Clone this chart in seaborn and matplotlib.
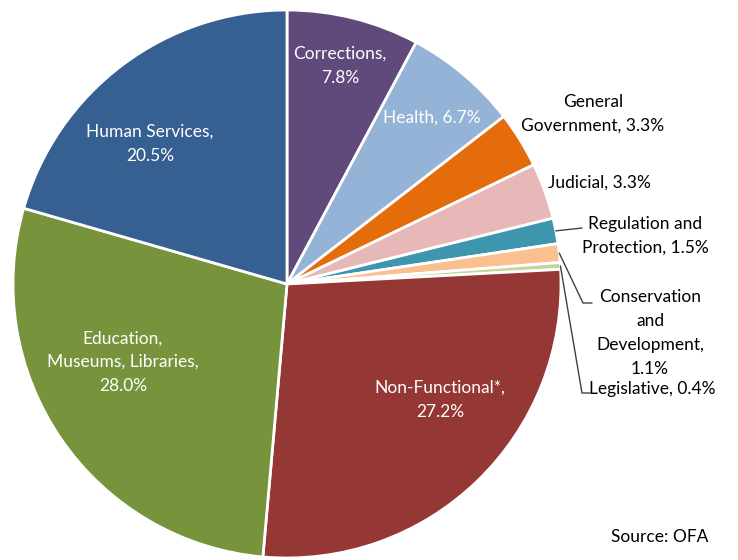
import matplotlib
matplotlib.use("Agg")
import matplotlib.pyplot as plt
import seaborn as sns
import numpy as np

# ---- data ----
categories = ["Corrections", "Health", "General Government", "Judicial",
              "Regulation and Protection", "Conservation and Development",
              "Legislative", "Non-Functional*", "Education, Museums, Libraries",
              "Human Services"]
values = [7.8, 6.7, 3.3, 3.3, 1.5, 1.1, 0.4, 27.2, 28.0, 20.5]
label_texts = ["Corrections,\n7.8%", "Health, 6.7%", "General\nGovernment, 3.3%",
               "Judicial, 3.3%", "Regulation and\nProtection, 1.5%",
               "Conservation\nand\nDevelopment,\n1.1%", "Legislative, 0.4%",
               "Non-Functional*,\n27.2%", "Education,\nMuseums, Libraries,\n28.0%",
               "Human Services,\n20.5%"]
source_text = "Source: OFA"

# ---- styling ----
colors = ["#604A7B", "#95B3D7", "#E46C0A", "#E6B9B8", "#3E96AE",
          "#FAC090", "#C3D69B", "#953735", "#77933C", "#376092"]
W, H = 738, 560
cx, cy, R = 287, 284, 274
# label centre positions in pixel coordinates (x, y from top)
label_pos = [(340, 66), (432, 118), (593, 114), (599, 183), (645, 236),
             (650, 333), (652, 389), (440, 400), (123, 362), (150, 144)]
label_col = ["white", "white", "black", "black", "black",
             "black", "black", "white", "white", "white"]
# leader line elbows (pixel coords) for small slices, None = no leader
leaders = [None, None, None, None, [(582, 228)],
           [(583, 303), (592, 303)], [(582, 393), (590, 393)],
           None, None, None]

sns.set_theme(style="white")
plt.rcParams['font.family'] = ['Lato', 'DejaVu Sans']

fig = plt.figure(figsize=(W / 100, H / 100), dpi=100)
ax = fig.add_axes([0, 0, 1, 1])

def py(y):
    return H - y

wedges, _ = ax.pie(values, colors=sns.color_palette(colors), startangle=90,
                   counterclock=False, center=(cx, py(cy)), radius=R,
                   wedgeprops=dict(edgecolor="white", linewidth=2))
ax.set_xlim(0, W)
ax.set_ylim(0, H)
ax.set_aspect("equal")
ax.axis("off")

for i, (txt, (lx, ly), col) in enumerate(zip(label_texts, label_pos, label_col)):
    ax.text(lx, py(ly), txt, ha="center", va="center", color=col,
            fontsize=12.5, linespacing=1.6)
    if leaders[i] is not None:
        w = wedges[i]
        ang = np.deg2rad((w.theta1 + w.theta2) / 2)
        sx = cx + R * np.cos(ang)
        sy = py(cy) + R * np.sin(ang)
        xs = [sx] + [p[0] for p in leaders[i]]
        ys = [sy] + [py(p[1]) for p in leaders[i]]
        ax.plot(xs, ys, color="#404040", linewidth=1)

ax.text(660, py(537), source_text, ha="center", va="center", color="black",
        fontsize=12.5)

fig.savefig("out.png", dpi=100, facecolor="white")
